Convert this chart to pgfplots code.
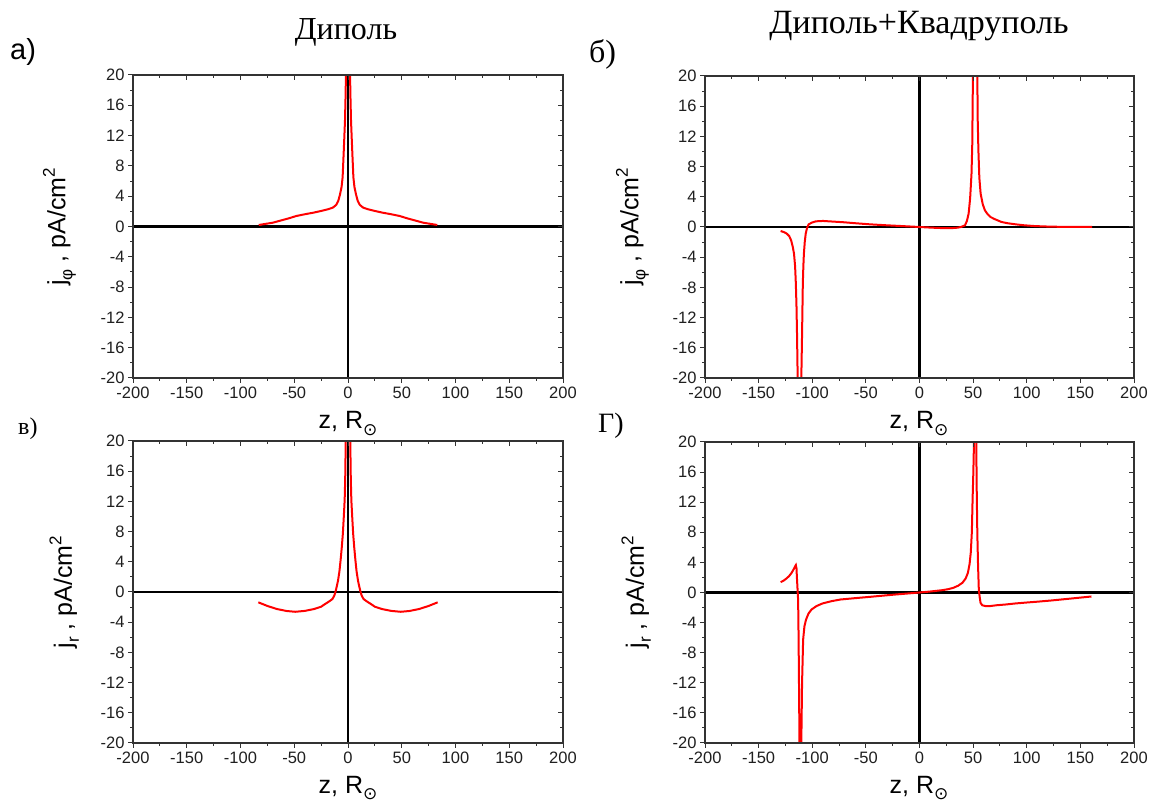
\documentclass[border=0pt]{standalone}
\usepackage{fontspec}
\setmainfont{Liberation Serif}
\setsansfont{Liberation Sans}
\newfontfamily\dejavu{DejaVu Sans}
\usepackage{pgfplots}
\pgfplotsset{compat=1.18}

\newcommand{\ticksize}{\sffamily\fontsize{16.5}{17}\selectfont}
\newcommand{\labsize}{\sffamily\fontsize{25}{28}\selectfont}
\newcommand{\subs}[1]{\raisebox{-0.28em}{\fontsize{17}{17}\selectfont #1}}
\newcommand{\sups}[1]{\raisebox{0.42em}{\fontsize{17}{17}\selectfont #1}}

\pgfplotsset{
  base/.style={
    scale only axis, anchor=south west,
    xmin=-200, xmax=200, ymin=-20, ymax=20,
    xtick={-200,-150,...,200}, ytick={-20,-16,...,20},
    minor x tick num=1, minor y tick num=1,
    major tick length=5pt, minor tick length=3pt,
    axis line style={draw=black!80, line width=1.2pt},
    every tick/.style={draw=black!80, line width=1pt},
  },
  panel/.style={
    base,
    tick align=outside, xtick pos=left, ytick pos=left,
    tick label style={font=\ticksize, text=black!88},
    /pgf/number format/assume math mode=true,
  },
  mirror/.style={
    base,
    tick align=inside, xtick pos=right, ytick pos=right,
    xticklabels={}, yticklabels={},
  },
  zero/.style={black, line width=2.1pt, forget plot},
  curve/.style={red, line width=2pt, no marks},
}

\begin{document}
\begin{tikzpicture}
\useasboundingbox (0pt,0pt) rectangle (1150pt,805pt);

% а) dipole, j_phi
\begin{axis}[panel, at={(133pt,427pt)}, width=430pt, height=303pt]
\addplot[zero] coordinates {(-200,0) (200,0)};
\addplot[zero] coordinates {(0,-20) (0,20)};
\addplot[curve] coordinates {
(-83,0.2) (-70,0.5) (-63,0.77) (-55,1.08) (-48,1.39) (-40,1.62) (-32,1.83)
(-25,2.05) (-18,2.3) (-14,2.5) (-11,2.85) (-9,3.4) (-7.5,4.2) (-6,5.2)
(-5,6.5) (-4.3,8.8) (-3.5,11.5) (-2.8,14) (-2.3,17) (-1.9,20) (-1.5,24)
(1.5,24) (1.9,20) (2.3,17) (2.8,14) (3.5,11.5) (4.3,8.8) (5,6.5) (6,5.2)
(7.5,4.2) (9,3.4) (11,2.85) (14,2.5) (18,2.3) (25,2.05) (32,1.83) (40,1.62)
(48,1.39) (55,1.08) (63,0.77) (70,0.5) (83,0.2)};
\end{axis}
\begin{axis}[mirror, at={(133pt,427pt)}, width=430pt, height=303pt]
\end{axis}

% б) dipole + quadrupole, j_phi
\begin{axis}[panel, at={(705pt,427pt)}, width=429pt, height=302pt]
\addplot[zero] coordinates {(-200,0) (200,0)};
\addplot[zero] coordinates {(0,-20) (0,20)};
\addplot[curve] coordinates {
(-129.5,-0.53) (-126,-0.7) (-123.7,-0.89) (-121.5,-1.2) (-119.7,-1.77)
(-118.2,-2.6) (-117,-3.55) (-116,-5.2) (-115.3,-7.5) (-114.7,-10.5)
(-114.2,-14.2) (-113.6,-20) (-112.8,-26) (-111.8,-30) (-110.9,-26)
(-110.2,-20) (-109.5,-14.2) (-108.8,-7.5) (-108.3,-5.2) (-107.8,-3.55)
(-107,-2) (-106.1,-0.89) (-105,-0.2) (-103.4,0.35) (-100,0.6) (-96.6,0.75)
(-90,0.8) (-80,0.71) (-70,0.62) (-60,0.5) (-46,0.35) (-30,0.22) (-12,0.09)
(0,0) (10,-0.08) (22,-0.15) (30,-0.15) (35.6,-0.09) (39,0.02) (42.4,0.22)
(44.2,0.8) (45.8,1.77) (47.2,3.8) (48.5,7.1) (49.2,11) (49.8,20) (50.5,26)
(51.9,30) (53.3,26) (53.9,20) (54.3,14) (54.9,10.2) (55.8,6.5) (57,4.4)
(59,3) (61,2.2) (63.5,1.7) (66.1,1.33) (70,1.05) (76.3,0.67) (82,0.5)
(89.8,0.35) (98,0.22) (106.8,0.13) (115,0.08) (123.7,0.04) (140,0.01) (161,0)};
\end{axis}
\begin{axis}[mirror, at={(705pt,427pt)}, width=429pt, height=302pt]
\end{axis}

% в) dipole, j_r
\begin{axis}[panel, at={(133pt,62pt)}, width=430pt, height=302pt]
\addplot[zero] coordinates {(-200,0) (200,0)};
\addplot[zero] coordinates {(0,-20) (0,20)};
\addplot[curve] coordinates {
(-83.4,-1.37) (-75,-1.85) (-66,-2.26) (-57,-2.52) (-49,-2.62) (-40,-2.5)
(-31.7,-2.26) (-25,-1.95) (-21.4,-1.6) (-17,-1.2) (-14.5,-0.93) (-12.8,-0.5)
(-11.7,0) (-10.5,0.7) (-9.3,1.5) (-8,2.7) (-6.9,4.2) (-5.8,5.9) (-4.8,7.7)
(-3.9,10) (-3.1,12.2) (-2.6,15) (-2.1,20) (-1.7,24)
(1.7,24) (2.1,20) (2.6,15) (3.1,12.2) (3.9,10) (4.8,7.7) (5.8,5.9) (6.9,4.2)
(8,2.7) (9.3,1.5) (10.5,0.7) (11.7,0) (12.8,-0.5) (14.5,-0.93) (17,-1.2)
(21.4,-1.6) (25,-1.95) (31.7,-2.26) (40,-2.5) (49,-2.62) (57,-2.52)
(66,-2.26) (75,-1.85) (83.4,-1.37)};
\end{axis}
\begin{axis}[mirror, at={(133pt,62pt)}, width=430pt, height=302pt]
\end{axis}

% г) dipole + quadrupole, j_r
\begin{axis}[panel, at={(705pt,62pt)}, width=429pt, height=301pt]
\addplot[zero] coordinates {(-200,0) (200,0)};
\addplot[zero] coordinates {(0,-20) (0,20)};
\addplot[curve] coordinates {
(-129.5,1.37) (-127,1.55) (-124.4,1.82) (-121.8,2.15) (-119.3,2.6)
(-117.5,3.05) (-115.9,3.5) (-115.3,3.64) (-114.7,3.2) (-114.2,1.7)
(-113.7,0.4) (-113.2,-0.93) (-112.9,-4) (-112.5,-9.8) (-111.9,-20)
(-111.4,-26) (-110.8,-28) (-110.2,-20) (-109.5,-12) (-108.5,-6.25)
(-107.3,-4.5) (-105.8,-3.6) (-103.5,-2.8) (-100.7,-2.26) (-96,-1.8)
(-90.5,-1.46) (-82,-1.15) (-73.6,-0.93) (-60,-0.75) (-46.4,-0.58)
(-35,-0.43) (-22.7,-0.27) (-10,-0.12) (0,0) (10,0.13) (21.4,0.31) (27,0.45)
(31.5,0.62) (36,0.9) (40,1.29) (43,1.85) (45.1,2.6) (46.7,3.8) (47.8,5.3)
(48.8,8) (49.5,12.4) (50.2,16) (50.8,20) (51.8,26) (52.9,20) (53.4,13)
(53.9,7.9) (54.6,3.5) (55.3,0.4) (56.1,-0.6) (56.9,-1.37) (58.5,-1.7)
(62,-1.82) (66,-1.8) (72.2,-1.69) (80,-1.6) (89.2,-1.46) (100,-1.33)
(110,-1.22) (123,-1.06) (140,-0.82) (160.3,-0.53)};
\end{axis}
\begin{axis}[mirror, at={(705pt,62pt)}, width=429pt, height=301pt]
\end{axis}

% titles and panel letters
\node[anchor=base, font=\fontsize{32}{36}\selectfont] at (346pt,765pt) {Диполь};
\node[anchor=base, font=\fontsize{34}{38}\selectfont] at (919pt,771pt) {Диполь+Квадруполь};
\node[anchor=base west, inner sep=0pt, font=\sffamily\fontsize{29}{32}\selectfont] at (10pt,745pt) {а)};
\node[anchor=base west, inner sep=0pt, font=\fontsize{32}{36}\selectfont] at (589pt,742pt) {б)};
\node[anchor=base west, inner sep=0pt, font=\fontsize{24}{28}\selectfont] at (18pt,370pt) {в)};
\node[anchor=base west, inner sep=0pt, font=\fontsize{28}{32}\selectfont] at (598pt,372pt) {Г)};

% x labels
\foreach \cx/\cy in {348/376, 919/376, 348/12, 919/12}
  \node[anchor=base, inner sep=0pt, font=\labsize] at (\cx pt,\cy pt) {z, R\subs{\dejavu ⊙}};

% y labels
\node[rotate=90, anchor=south, inner sep=0pt, font=\labsize] at (76pt,578pt) {j\subs{φ} , pA/cm\sups{2}};
\node[rotate=90, anchor=south, inner sep=0pt, font=\labsize] at (649pt,578pt) {j\subs{φ} , pA/cm\sups{2}};
\node[rotate=90, anchor=south, inner sep=0pt, font=\labsize] at (79pt,213pt) {j\subs{r} , pA/cm\sups{2}};
\node[rotate=90, anchor=south, inner sep=0pt, font=\labsize] at (651pt,213pt) {j\subs{r} , pA/cm\sups{2}};
\end{tikzpicture}
\end{document}
